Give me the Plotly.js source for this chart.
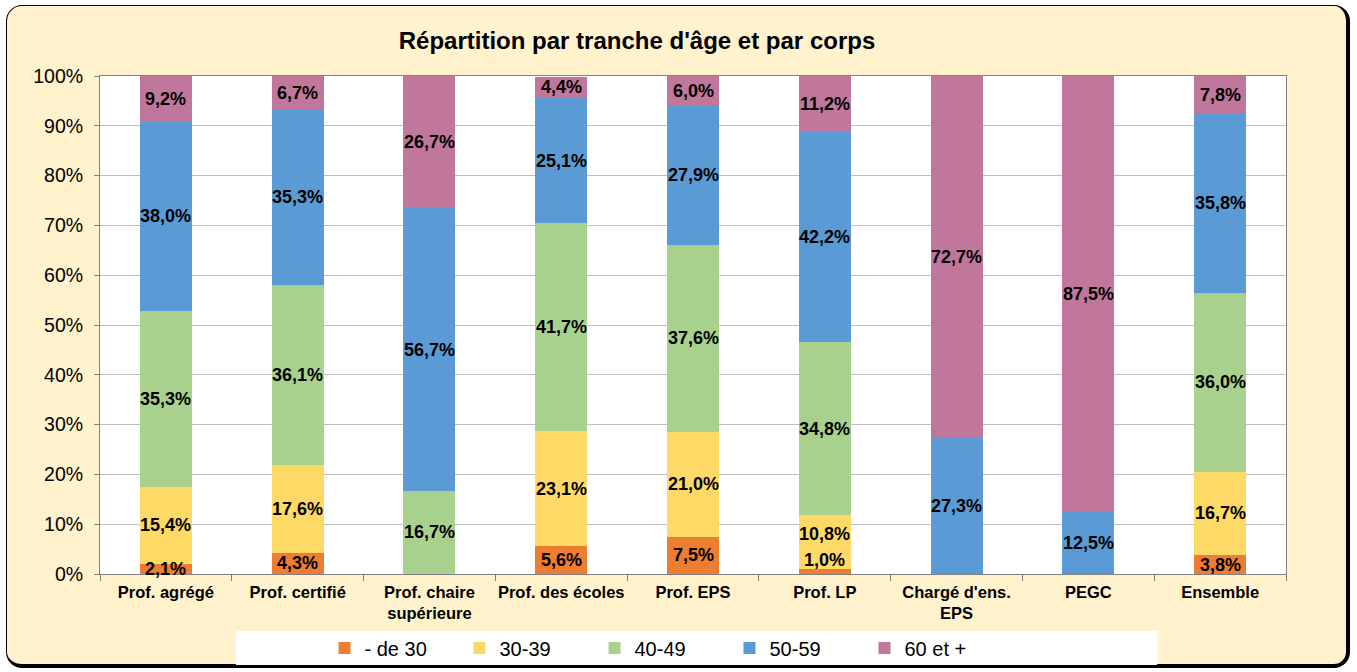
<!DOCTYPE html>
<html>
<head>
<meta charset="utf-8">
<script src="https://cdn.plot.ly/plotly-3.0.1.min.js"></script>
<style>
html,body{margin:0;padding:0;background:#fff;}
#frame{position:absolute;left:6px;top:5px;width:1339px;height:658px;background:#FFF2CC;border:1.5px solid #000;border-right-width:4px;border-bottom-width:4px;border-radius:16px;}
#chart{position:absolute;left:0;top:0;width:1357px;height:672px;}
</style>
</head>
<body>
<div id="frame"></div>
<div id="chart"></div>
<script>
const categories = ["Prof. agrégé","Prof. certifié","Prof. chaire<br>supérieure","Prof. des écoles","Prof. EPS","Prof. LP","Chargé d'ens.<br>EPS","PEGC","Ensemble"];
const seriesNames = ["- de 30","30-39","40-49","50-59","60 et +"];
const seriesColors = ["#ED7D31","#FFD966","#A9D18E","#5B9BD5","#C0779B"];
const moins30 = [2.1,4.3,0,5.6,7.5,1.0,0,0,3.8];
const a30_39  = [15.4,17.6,0,23.1,21.0,10.8,0,0,16.7];
const a40_49  = [35.3,36.1,16.7,41.7,37.6,34.8,0,0,36.0];
const a50_59  = [38.0,35.3,56.7,25.1,27.9,42.2,27.3,12.5,35.8];
const a60plus = [9.2,6.7,26.7,4.4,6.0,11.2,72.7,87.5,7.8];
const series = [moins30,a30_39,a40_49,a50_59,a60plus];
const yTicks = [0,10,20,30,40,50,60,70,80,90,100];
const yTickLabels = yTicks.map(v => v + "%");

const FONT = 'Liberation Sans, Arial, sans-serif';

const traces = series.map((vals,i) => ({
  type:'bar', name:seriesNames[i], x:categories, y:vals,
  marker:{color:seriesColors[i], line:{width:0}},
  width:0.395, hoverinfo:'skip'
}));

const annotations = [];
categories.forEach((c,j) => {
  let cum = 0;
  series.forEach((vals,i) => {
    const v = vals[j];
    if (v > 0) {
      annotations.push({
        x:c, y:cum + v/2, xref:'x', yref:'y', showarrow:false,
        text: v.toFixed(1).replace('.',',') + '%',
        font:{family:FONT, size:18, color:'#000', weight:'bold'},
        yshift: v < 1.5 ? 12 : (i === 1 && moins30[j] < 1.5 ? 8 : 0)
      });
    }
    cum += v;
  });
});

const layout = {
  width:1357, height:672,
  paper_bgcolor:'rgba(0,0,0,0)', plot_bgcolor:'#fff',
  margin:{l:100, r:71, t:76, b:98, autoexpand:false},
  barmode:'stack', bargap:0.6,
  title:{text:"Répartition par tranche d'âge et par corps", x:637/1357, xref:'container', xanchor:'center', y:1-41/672, yref:'container', yanchor:'middle',
    font:{family:FONT, size:24, color:'#000', weight:'bold'}},
  font:{family:FONT, color:'#000'},
  xaxis:{type:'category', tickson:'boundaries', ticks:'outside', ticklen:6, tickcolor:'#808080', tickangle:0,
    ticklabelstandoff:3,
    showline:true, linecolor:'#808080', linewidth:1, mirror:true, showgrid:false,
    tickfont:{family:FONT, size:16.5, color:'#000', weight:'bold'}},
  yaxis:{range:[0,100], tickvals:yTicks, ticktext:yTickLabels, ticks:'outside', ticklen:5, tickcolor:'#808080',
    ticklabelstandoff:7,
    showline:true, linecolor:'#808080', linewidth:1, mirror:true,
    showgrid:true, gridcolor:'#BFBFBF', gridwidth:1, zeroline:false,
    tickfont:{family:FONT, size:19.5, color:'#000'}},
  legend:{orientation:'h', x:(662-100)/1186, xanchor:'center', y:(574-648)/498, yanchor:'middle',
    bgcolor:'rgba(0,0,0,0)', font:{family:FONT, size:20, color:'#000'},
    entrywidth:90, traceorder:'normal', itemwidth:30},
  shapes:[{type:'rect', xref:'paper', yref:'paper', x0:(236-100)/1186, x1:(1157-100)/1186,
    y0:(574-665)/498, y1:(574-631)/498, fillcolor:'#fff', line:{width:0}, layer:'above'}],
  annotations:annotations,
  showlegend:true
};
Plotly.newPlot('chart', traces, layout, {displayModeBar:false, staticPlot:true});
</script>
</body>
</html>
